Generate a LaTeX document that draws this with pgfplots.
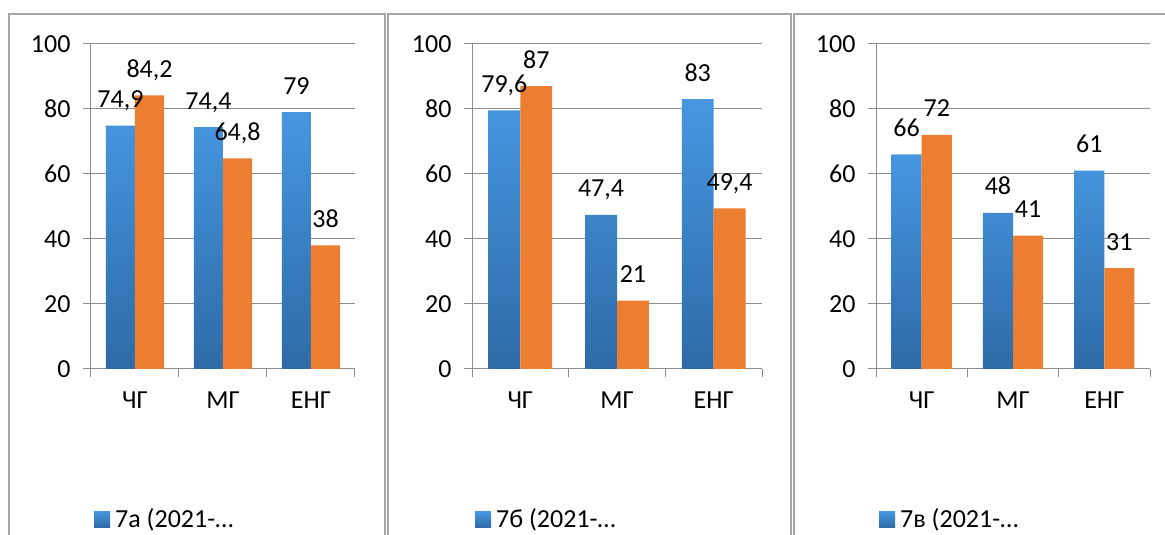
\documentclass[border=0pt]{standalone}
\usepackage{fontspec}
\setmainfont{Carlito}
\usepackage{pgfplots}
\pgfplotsset{compat=1.18}
\definecolor{bluetop}{HTML}{4697E0}
\definecolor{bluebot}{HTML}{2E6AA7}
\definecolor{orng}{HTML}{ED7D31}
\definecolor{gridc}{HTML}{8C8C8C}
\definecolor{framec}{HTML}{A6A6A6}
\newcommand{\fs}{\fontsize{26}{30}\selectfont}

\pgfplotstableread{
x blue orange
0 74.9 84.2
1 74.4 64.8
2 79   38
}\dataA
\pgfplotstableread{
x blue orange
0 79.6 87
1 47.4 21
2 83   49.4
}\dataB
\pgfplotstableread{
x blue orange
0 66 72
1 48 41
2 61 31
}\dataC

\pgfplotsset{
 panel/.style={
   scale only axis, height=325pt, ymin=0, ymax=100, xmin=-0.5, xmax=2.5,
   ytick={0,20,...,100}, ymajorgrids, grid style={gridc, line width=1pt},
   axis lines*=left, axis line style={gridc, line width=1pt, -},
   major tick length=8pt, tick align=outside, tick style={gridc, line width=1pt},
   xtick={-0.5,0.5,1.5,2.5}, xticklabels={},
   extra x ticks={0,1,2}, extra x tick labels={ЧГ,МГ,ЕНГ},
   extra x tick style={major tick length=0pt, grid=none},
   ybar=0pt, bar width=0.33,
   nodes near coords={\pgfmathprintnumber{\pgfplotspointmeta}},
   every node near coord/.append style={anchor=base, inner sep=0pt, yshift=18pt, text=black, font=\fs},
   tick label style={font=\fs, text=black},
   xticklabel style={yshift=-19pt},
   yticklabel style={xshift=-9pt},
   /pgf/number format/.cd, use comma, assume math mode=true, 1000 sep={}, /pgfplots/.cd,
   legend style={at={(0,0)}, anchor=north west, yshift=-137pt, xshift=3pt, draw=none, fill=none, font=\fs, inner sep=0pt},
   legend cell align=left,
 },
 bluebar/.style={draw=none, top color=bluetop, bottom color=bluebot,
   legend image code/.code={\shade[top color=bluetop, bottom color=bluebot] (0pt,-9pt) rectangle (16pt,7pt); \path (19pt,0pt);}},
 orbar/.style={draw=none, fill=orng},
}

\begin{document}
\begin{tikzpicture}[font=\fs]
\useasboundingbox (0pt,0pt) rectangle (1165pt,535pt);
\draw[framec, line width=1.5pt] (9pt,-10pt) rectangle (385pt,521pt);
\draw[framec, line width=1.5pt] (388pt,-10pt) rectangle (791pt,521pt);
\draw[framec, line width=1.5pt] (794pt,-10pt) rectangle (1180pt,521pt);

\begin{axis}[panel, width=264pt, at={(91pt,166pt)}, anchor=south west]
\addplot[bluebar] table[x=x, y=blue] {\dataA};
\addlegendentry{7а (2021-…}
\addplot[orbar] table[x=x, y=orange] {\dataA};
\end{axis}

\begin{axis}[panel, width=290pt, at={(472pt,166pt)}, anchor=south west]
\addplot[bluebar] table[x=x, y=blue] {\dataB};
\addlegendentry{7б (2021-…}
\addplot[orbar] table[x=x, y=orange] {\dataB};
\end{axis}

\begin{axis}[panel, width=274pt, at={(876pt,166pt)}, anchor=south west]
\addplot[bluebar] table[x=x, y=blue] {\dataC};
\addlegendentry{7в (2021-…}
\addplot[orbar] table[x=x, y=orange] {\dataC};
\end{axis}
\end{tikzpicture}
\end{document}
